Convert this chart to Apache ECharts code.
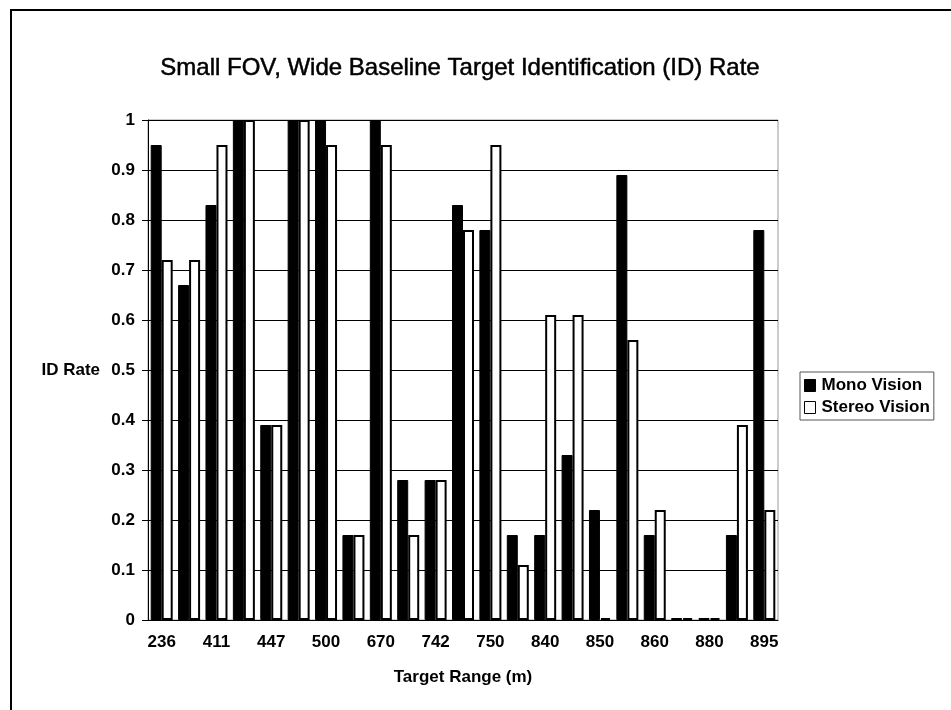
<!DOCTYPE html>
<html>
<head>
<meta charset="utf-8">
<script src="https://cdn.jsdelivr.net/npm/echarts@6/dist/echarts.min.js"></script>
<style>
  html, body { margin: 0; padding: 0; background: #fff; }
  #main { width: 951px; height: 710px; }
</style>
</head>
<body>
<div id="main"></div>
<script>
// target ranges (only every other one is labelled on the axis)
var ranges = ['236', '300', '411', '430', '447', '480', '500', '600', '670', '700', '742',
  '745', '750', '800', '840', '845', '850', '855', '860', '870', '880', '890', '895'];
var monoRate = [0.95, 0.67, 0.83, 1, 0.39, 1, 1, 0.17, 1, 0.28, 0.28,
  0.83, 0.78, 0.17, 0.17, 0.33, 0.22, 0.89, 0.17, 0, 0, 0.17, 0.78];
var stereoRate = [0.72, 0.72, 0.95, 1, 0.39, 1, 0.95, 0.17, 0.95, 0.17, 0.28,
  0.78, 0.95, 0.11, 0.61, 0.61, 0, 0.56, 0.22, 0, 0, 0.39, 0.22];

var font = 'Arial, "Liberation Sans", sans-serif';
var chart = echarts.init(document.getElementById('main'));

var option = {
  backgroundColor: '#fff',
  animation: false,
  textStyle: { fontFamily: font, color: '#000' },
  title: {
    text: 'Small FOV, Wide Baseline Target Identification (ID) Rate',
    left: 455,
    textAlign: 'center',
    top: 51,
    textStyle: {
      fontSize: 24, fontWeight: 'normal', color: '#000', fontFamily: font,
      textBorderColor: '#000', textBorderWidth: 0.5
    }
  },
  graphic: [{
    type: 'rect',
    shape: { x: 11, y: 10, width: 960, height: 720 },
    style: { fill: 'none', stroke: '#000', lineWidth: 2 },
    silent: true
  }],
  legend: {
    orient: 'vertical',
    left: 800,
    top: 372,
    icon: 'rect',
    itemWidth: 11,
    itemHeight: 12,
    itemGap: 5,
    padding: [5, 4, 4, 4],
    borderColor: '#555',
    borderWidth: 1,
    itemStyle: { borderWidth: 1 },
    textStyle: { fontSize: 17, fontWeight: 'bold', color: '#000', fontFamily: font, padding: [0, 0, 0, 1] },
    data: ['Mono Vision', 'Stereo Vision']
  },
  grid: {
    left: 148,
    right: 173,
    top: 120,
    bottom: 90,
    show: true,
    borderColor: '#999',
    borderWidth: 1
  },
  xAxis: {
    type: 'category',
    data: ranges,
    name: 'Target Range (m)',
    nameLocation: 'middle',
    nameGap: 49,
    nameTextStyle: { fontSize: 17, fontWeight: 'bold', color: '#000' },
    axisLine: { lineStyle: { color: '#000', width: 1 } },
    axisTick: { interval: 0, length: 6, lineStyle: { color: '#000' } },
    axisLabel: { interval: 1, fontSize: 17, fontWeight: 'bold', color: '#000', margin: 14 }
  },
  yAxis: {
    type: 'value',
    min: 0,
    max: 1,
    interval: 0.1,
    name: 'ID Rate',
    nameLocation: 'middle',
    nameRotate: 0,
    nameGap: 48,
    nameTextStyle: { fontSize: 17, fontWeight: 'bold', color: '#000', align: 'right' },
    axisLine: { show: true, lineStyle: { color: '#000', width: 1 } },
    axisTick: { show: true, length: 6, lineStyle: { color: '#000' } },
    axisLabel: { fontSize: 17, fontWeight: 'bold', color: '#000', margin: 13 },
    splitLine: { lineStyle: { color: '#000', width: 1 } }
  },
  series: [
    {
      name: 'Mono Vision',
      type: 'bar',
      data: monoRate,
      barWidth: 11,
      barGap: '0%',
      barMinHeight: 2,
      itemStyle: { color: '#000', borderColor: '#000', borderWidth: 1 }
    },
    {
      name: 'Stereo Vision',
      type: 'bar',
      data: stereoRate,
      barWidth: 11,
      barMinHeight: 2,
      itemStyle: { color: '#fff', borderColor: '#000', borderWidth: 2 }
    }
  ]
};

chart.setOption(option);
</script>
</body>
</html>
